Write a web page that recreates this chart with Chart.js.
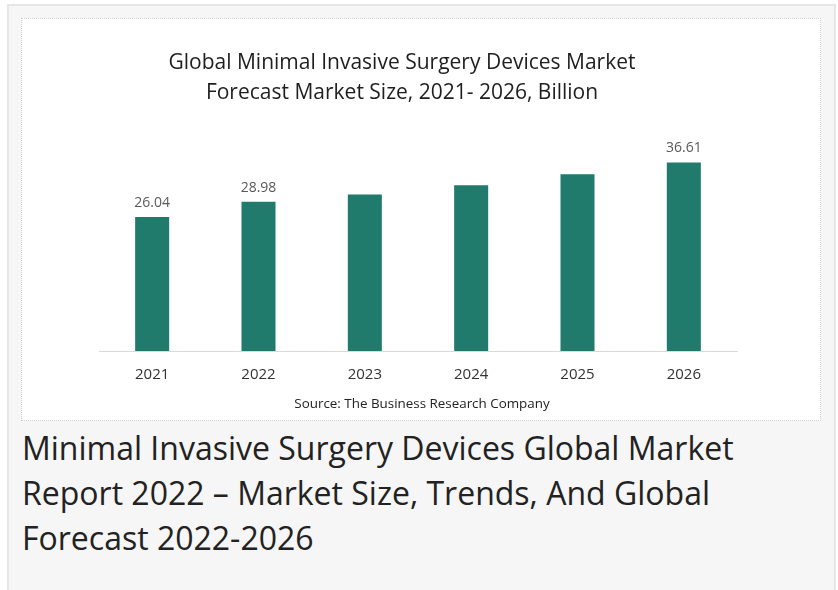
<!DOCTYPE html>
<html lang="en">
<head>
    <meta charset="UTF-8">
    <title>Minimal Invasive Surgery Devices Global Market</title>
    <script src="https://cdn.jsdelivr.net/npm/chart.js"></script>
    <style>
        body {
            margin: 0;
            background: #ffffff;
            font-family: "Open Sans", sans-serif;
        }
        .frame {
            position: absolute;
            left: 7px;
            top: 4px;
            width: 825px;
            height: 600px;
            border: 2px solid #e6e6e6;
            background: #f6f6f6;
        }
        .chart-box {
            position: absolute;
            left: 21px;
            top: 18px;
            width: 798px;
            height: 401px;
            border: 1px dotted #cfcfcf;
            background: #ffffff;
        }
        .chart-title {
            position: absolute;
            left: 0;
            width: 760px;
            top: 27px;
            text-align: center;
            font-size: 21px;
            line-height: 30px;
            color: #1e1e1e;
        }
        .source {
            position: absolute;
            left: 0;
            width: 800px;
            top: 375px;
            text-align: center;
            font-size: 13.4px;
            color: #222;
        }
        canvas {
            position: absolute;
            left: 0;
            top: 0;
        }
        h1 {
            position: absolute;
            left: 22px;
            top: 425px;
            margin: 0;
            width: 800px;
            font-weight: normal;
            font-size: 32px;
            line-height: 45px;
            color: #222;
        }
    </style>
</head>
<body>
    <div class="frame"></div>
    <div class="chart-box">
        <canvas id="marketChart" width="800" height="403"></canvas>
        <div class="chart-title">Global Minimal Invasive Surgery Devices Market<br>Forecast Market Size, 2021- 2026, Billion</div>
        <div class="source">Source: The Business Research Company</div>
    </div>
    <h1>Minimal Invasive Surgery Devices Global Market<br>Report 2022 – Market Size, Trends, And Global<br>Forecast 2022-2026</h1>

    <script>
        const years = ['2021', '2022', '2023', '2024', '2025', '2026'];
        const marketSize = [26.04, 28.98, 30.4, 32.2, 34.3, 36.61];
        // only these bars carry a value label in the original
        const labelledBars = [0, 1, 5];

        const barLabels = {
            id: 'barLabels',
            afterDatasetsDraw(chart) {
                const ctx = chart.ctx;
                const meta = chart.getDatasetMeta(0);
                ctx.save();
                ctx.font = '14px "Open Sans"';
                ctx.fillStyle = '#595959';
                ctx.textAlign = 'center';
                ctx.textBaseline = 'alphabetic';
                labelledBars.forEach(i => {
                    const bar = meta.data[i];
                    ctx.fillText(marketSize[i].toFixed(2), bar.x, bar.y - 10);
                });
                ctx.restore();
            }
        };

        new Chart(document.getElementById('marketChart'), {
            type: 'bar',
            data: {
                labels: years,
                datasets: [{
                    data: marketSize,
                    backgroundColor: '#207b6c',
                    barPercentage: 0.32,
                    categoryPercentage: 1
                }]
            },
            options: {
                responsive: false,
                animation: false,
                layout: {
                    padding: { left: 77, right: 85, top: 126, bottom: 23 }
                },
                plugins: {
                    legend: { display: false },
                    tooltip: { enabled: false }
                },
                scales: {
                    x: {
                        grid: { display: false, drawTicks: false },
                        border: { display: true, color: '#d9d9d9', width: 1 },
                        ticks: {
                            padding: 15,
                            color: '#333',
                            font: { family: 'Open Sans', size: 15 }
                        }
                    },
                    y: {
                        display: false,
                        min: 0,
                        max: 40
                    }
                }
            },
            plugins: [barLabels]
        });
    </script>
</body>
</html>
